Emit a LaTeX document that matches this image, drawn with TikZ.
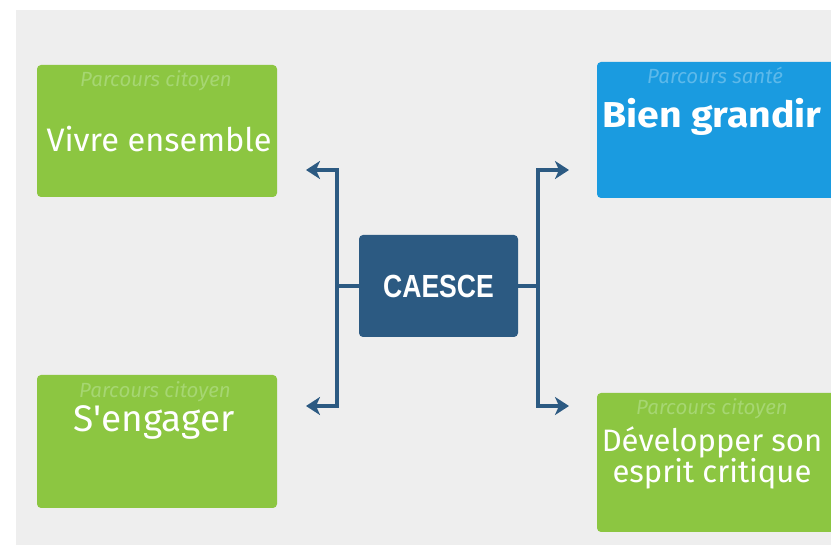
\documentclass[tikz,border=0pt]{standalone}
\usepackage{fontspec}
\setmainfont{Fira Sans}
\newfontfamily\arialfont{Liberation Sans}
\usetikzlibrary{arrows.meta, positioning}

\definecolor{grasgreen}{HTML}{8CC641}
\definecolor{skyblue}{HTML}{1A9BE0}
\definecolor{navyblue}{HTML}{2C5A82}
\definecolor{bggray}{HTML}{EEEEEE}
\definecolor{subgreen}{HTML}{A6D672}
\definecolor{subblue}{HTML}{5DB9EA}

\newcommand{\straightquote}{\XeTeXglyph\XeTeXglyphindex "quotesingle"\relax}

\tikzset{
    box/.style={rounded corners=4pt, minimum width=240pt, inner sep=0pt},
    title/.style={text=white, anchor=base, inner sep=0pt, align=center},
    sub/.style={font=\itshape\fontsize{20.5}{24}\selectfont, anchor=base, inner sep=0pt},
    link/.style={navyblue, line width=3.3pt},
    tip/.style={link, -{Stealth[length=14pt, width=18pt, inset=4pt]}}
}

\begin{document}
\begin{tikzpicture}[x=1pt, y=-1pt]
    \useasboundingbox (0,0) rectangle (831,545);
    \clip (0,0) rectangle (831,545);
    \fill[white] (0,0) rectangle (831,545);
    \fill[bggray] (16,10) rectangle (831,545);

    % les quatre parcours
    \node[box, fill=grasgreen, minimum height=132pt] (ve) at (157,131) {};
    \node[box, fill=skyblue, minimum height=136pt] (bg) at (717,130) {};
    \node[box, fill=grasgreen, minimum height=133pt] (se) at (157,441.5) {};
    \node[box, fill=grasgreen, minimum height=139pt] (dc) at (717,462.5) {};

    \node[sub, text=subgreen] (ve-sub) at (156,87) {Parcours citoyen};
    \node[title, font=\fontsize{32.5}{36}\selectfont] (ve-title) at (159,152) {Vivre ensemble};
    \node[sub, text=subblue] (bg-sub) at (715,84) {Parcours santé};
    \node[title, font=\bfseries\fontsize{36}{40}\selectfont] (bg-title) at (712,128)
        {\scalebox{1.09}[1]{Bien grandir}};
    \node[sub, text=subgreen] (se-sub) at (155,398) {Parcours citoyen};
    \node[title, font=\fontsize{37}{40}\selectfont] (se-title) at (154,432) {S\straightquote engager};
    \node[sub, text=subgreen] (dc-sub) at (712,415) {Parcours citoyen};
    \node[title, font=\fontsize{31}{29}\selectfont, anchor=north] (dc-title) at (712,426) {Développer son\\esprit critique};

    % centre
    \node[box, fill=navyblue, minimum width=159pt, minimum height=102pt,
          text=white, font=\arialfont\bfseries\fontsize{32}{36}\selectfont] (caesce) at (438.5,286)
          {\scalebox{0.83}[1]{CAESCE}};

    \coordinate (jl) at (337,286);
    \coordinate (jr) at (538,286);
    \coordinate (ve-in) at (306,170);
    \coordinate (se-in) at (306,406);
    \coordinate (bg-in) at (569,170);
    \coordinate (dc-in) at (569,406);

    \draw[link] (caesce.west) -- (jl);
    \draw[link] (caesce.east) -- (jr);
    \draw[tip] (jl) |- (ve-in);
    \draw[tip] (jl) |- (se-in);
    \draw[tip] (jr) |- (bg-in);
    \draw[tip] (jr) |- (dc-in);
\end{tikzpicture}
\end{document}
